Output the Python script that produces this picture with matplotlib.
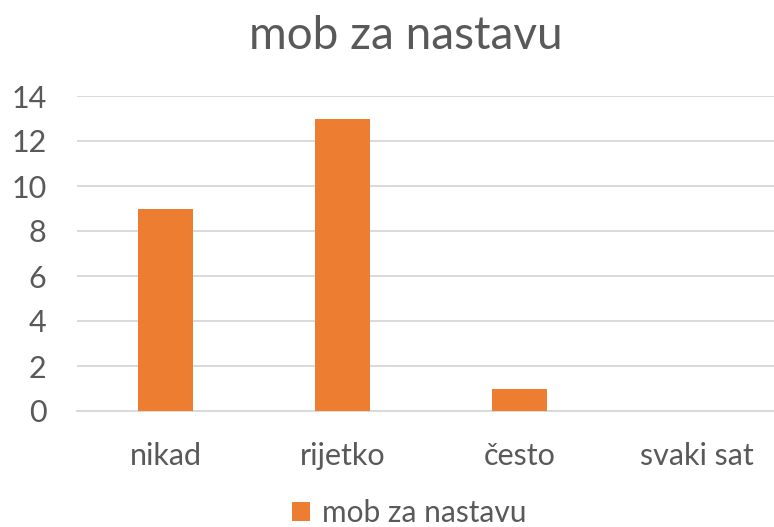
import matplotlib.pyplot as plt

categories = ['nikad', 'rijetko', 'često', 'svaki sat']
values = [9, 13, 1, 0]
series_name = 'mob za nastavu'
yticks = [0, 2, 4, 6, 8, 10, 12, 14]

plt.rcParams['font.family'] = ['Lato', 'DejaVu Sans']

fig = plt.figure(figsize=(7.74, 5.27), dpi=100)
ax = fig.add_axes([77 / 774, 116 / 527, 708 / 774, 315 / 527])

ax.bar(range(len(categories)), values, width=0.313, color='#ED7D31', label=series_name, zorder=3)

ax.set_xlim(-0.5, len(categories) - 0.5)
ax.set_ylim(0, 14)
ax.set_yticks(yticks)
ax.set_xticks(range(len(categories)))
ax.set_xticklabels(categories)
ax.yaxis.grid(True, color='#D9D9D9', linewidth=1.4, zorder=0)
ax.set_axisbelow(True)
for s in ['top', 'left', 'right']:
    ax.spines[s].set_visible(False)
ax.spines['bottom'].set_color('#D9D9D9')
ax.spines['bottom'].set_linewidth(1.4)
ax.tick_params(length=0, labelsize=22, labelcolor='#595959')
ax.tick_params(axis='x', pad=22)
ax.tick_params(axis='y', pad=22)

fig.text(406 / 774, 1 - 36 / 527, 'mob za nastavu', ha='center', va='center',
         fontsize=33, color='#595959')

fig.legend(loc='center', bbox_to_anchor=(409 / 774, 1 - 513 / 527), frameon=False,
           fontsize=21.5, labelcolor='#595959', handlelength=0.6, handleheight=0.6,
           handletextpad=0.4)

fig.savefig('out.png', dpi=100)
